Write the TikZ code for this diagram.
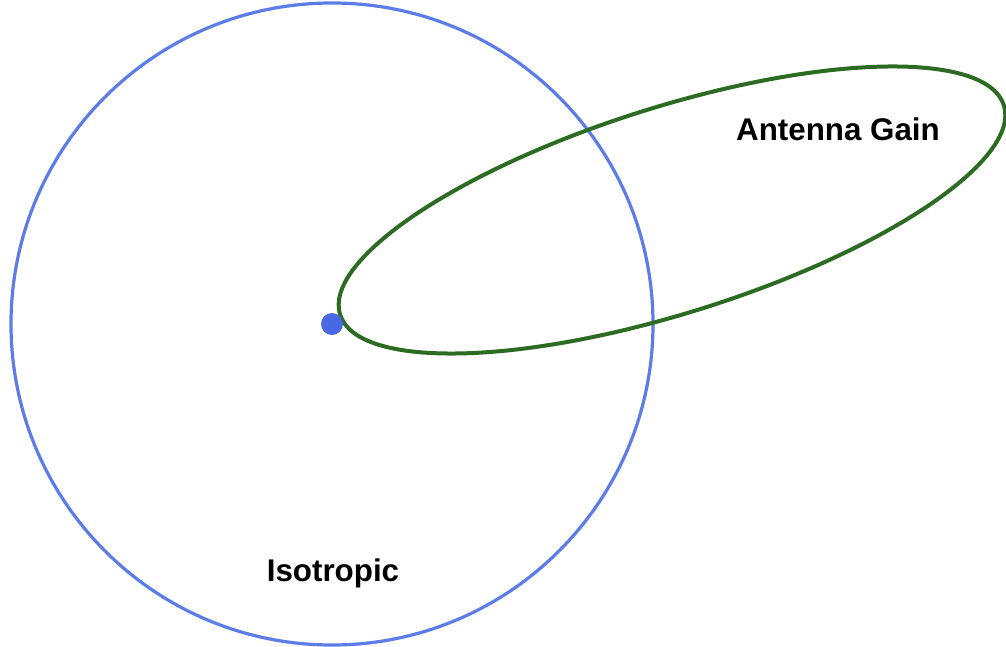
\documentclass[tikz,border=0pt]{standalone}
\usepackage{fontspec}
\setmainfont{Liberation Sans}

\definecolor{isoblue}{RGB}{92,124,232}
\definecolor{dotblue}{RGB}{72,104,228}
\definecolor{gaingreen}{RGB}{44,108,34}

\begin{document}
\begin{tikzpicture}[
    x=0.75pt, y=-0.75pt,
    isotropic/.style={draw=isoblue, line width=2.4pt},
    gain/.style={draw=gaingreen, line width=3pt},
    source/.style={circle, fill=dotblue, inner sep=0pt, minimum size=16.5pt},
    label/.style={font=\fontsize{23.5}{28}\selectfont\bfseries, text=black, anchor=base}
]
\useasboundingbox (0,0) rectangle (1006,646);

% ===== Antenna at the centre =====
\coordinate (origin) at (332,324);
\coordinate (lobe) at (672,210);

% Isotropic pattern
\draw[isotropic] (origin) circle[radius=321];

% Directive pattern
\draw[gain, rotate around={17.5:(lobe)}] (lobe) ellipse[x radius=348, y radius=103];

% Source point
\node[source] (antenna) at (origin) {};

% Labels
\node[label] (gainlabel) at (838,140) {Antenna Gain};
\node[label] (isolabel) at (333,581) {Isotropic};

\end{tikzpicture}
\end{document}
